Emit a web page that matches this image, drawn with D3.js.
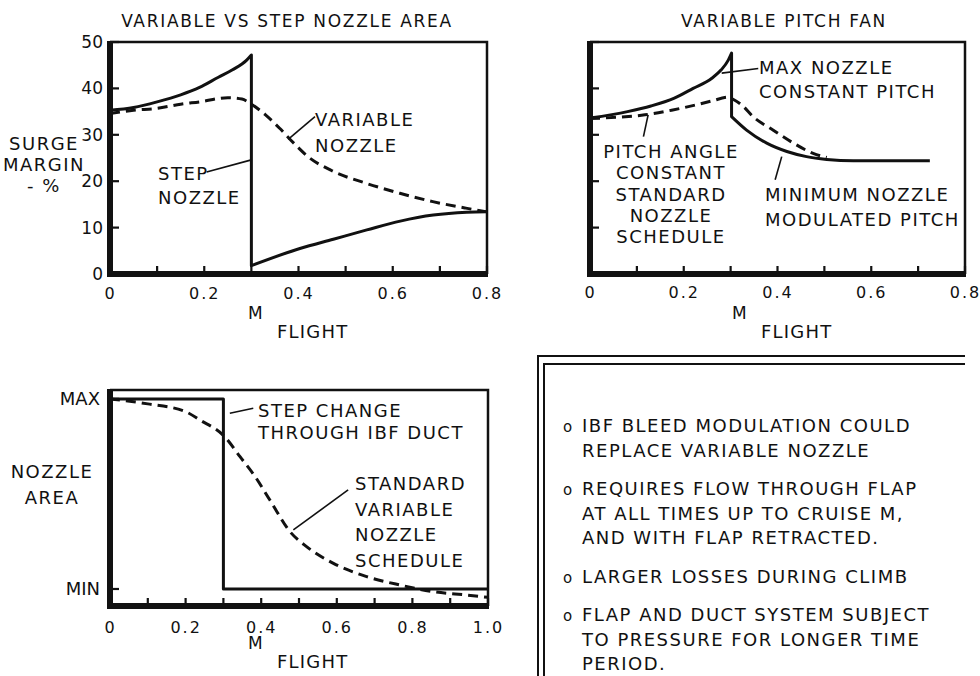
<!DOCTYPE html>
<html>
<head>
<meta charset="utf-8">
<script src="https://cdn.jsdelivr.net/npm/d3@7"></script>
<style>
  body { margin: 0; background: #fff; }
  svg text { font-family: "DejaVu Sans", sans-serif; fill: #111; }
</style>
</head>
<body>
<svg id="chart" width="980" height="676"></svg>
<script>
// ---- values ----
// panel 1 : surge margin (%) vs M flight, step vs variable nozzle
const stepLowM   = [0, 0.05, 0.1, 0.15, 0.19, 0.23, 0.26, 0.29, 0.3];
const stepLowSM  = [35.3, 35.9, 37.1, 38.6, 40.2, 42.4, 44.0, 46.1, 47.2];
const stepHighM  = [0.3, 0.403, 0.474, 0.545, 0.616, 0.686, 0.757, 0.8];
const stepHighSM = [1.8, 5.5, 7.5, 9.5, 11.4, 12.7, 13.3, 13.4];
const varNozM    = [0, 0.05, 0.1, 0.15, 0.19, 0.25, 0.28, 0.3, 0.33, 0.36, 0.39, 0.42, 0.47, 0.545, 0.615, 0.685, 0.755, 0.8];
const varNozSM   = [34.6, 35.3, 35.7, 36.6, 37.1, 38.0, 37.7, 36.6, 34.3, 31.4, 28.2, 25.3, 22.3, 19.5, 17.4, 15.6, 14.2, 13.4];

// panel 2 : variable pitch fan
const maxNozM      = [0, 0.08, 0.13, 0.18, 0.22, 0.26, 0.28, 0.295, 0.302];
const maxNozSM     = [33.6, 35.0, 36.2, 37.9, 40.0, 42.2, 44.0, 46.1, 47.6];
const minNozM      = [0.302, 0.334, 0.377, 0.42, 0.462, 0.505, 0.562, 0.633, 0.725];
const minNozSM     = [33.9, 31.0, 28.2, 26.4, 25.3, 24.7, 24.4, 24.4, 24.4];
const pitchConstM  = [0, 0.06, 0.117, 0.174, 0.224, 0.26, 0.295, 0.306, 0.324, 0.348, 0.391, 0.434, 0.476, 0.505];
const pitchConstSM = [33.5, 33.8, 34.3, 35.3, 36.4, 37.3, 38.1, 37.6, 36.4, 33.9, 31.0, 28.2, 26.0, 25.1];

// panel 3 : nozzle area (0 = MIN, 1 = MAX)
const ibfM       = [0, 0.3, 0.3, 1.0];
const ibfArea    = [1, 1, 0, 0];
const stdNozM    = [0, 0.1, 0.2, 0.238, 0.304, 0.344, 0.384, 0.423, 0.476, 0.52, 0.591, 0.679, 0.767, 0.855, 0.944, 1.0];
const stdNozArea = [1.0, 0.974, 0.933, 0.889, 0.80, 0.696, 0.591, 0.468, 0.302, 0.223, 0.135, 0.065, 0.021, -0.014, -0.032, -0.044];

// ticks
const machTicks08 = [0, 0.1, 0.2, 0.3, 0.4, 0.5, 0.6, 0.7, 0.8];
const machTicks10 = [0, 0.1, 0.2, 0.3, 0.4, 0.5, 0.6, 0.7, 0.8, 0.9, 1.0];
const smTicks = [0, 10, 20, 30, 40, 50];
const areaTicks = [0, 1];
const areaLabels = ["MIN", "MAX"];

// text
const titles = ["VARIABLE VS STEP NOZZLE AREA", "VARIABLE PITCH FAN"];
const bullets = [
  ["IBF BLEED MODULATION COULD", "REPLACE VARIABLE NOZZLE"],
  ["REQUIRES FLOW THROUGH FLAP", "AT ALL TIMES UP TO CRUISE M,", "AND WITH FLAP RETRACTED."],
  ["LARGER LOSSES DURING CLIMB"],
  ["FLAP AND DUCT SYSTEM SUBJECT", "TO PRESSURE FOR LONGER TIME", "PERIOD."]
];

const ink = "#111";
const svg = d3.select("#chart");
svg.append("rect").attr("width", 980).attr("height", 676).attr("fill", "#fff");
const frameLayer = svg.append("g");
const markLayer = svg.append("g");
const axisLayer = svg.append("g");
const textLayer = svg.append("g");

const zip = (xs, ys) => xs.map((v, i) => [v, ys[i]]);
const machFmt = d => { const k = Math.round(d * 10); return k % 2 ? "" : (k === 0 ? "0" : d.toFixed(1)); };

function addAxes(x, y, o) {
  const [xa0, xa1] = x.range(), [ya0, ya1] = y.range();
  // thin top / right border
  frameLayer.append("path")
      .attr("d", `M${xa0},${ya1}H${xa1}V${ya0}`)
      .attr("fill", "none").attr("stroke", ink).attr("stroke-width", 2.5);
  // labels from d3 axes
  const xa = axisLayer.append("g").attr("transform", `translate(0,${ya0})`)
      .call(d3.axisBottom(x).tickValues(o.xTicks).tickFormat(machFmt)
        .tickSize(0).tickSizeOuter(0).tickPadding(o.xPad));
  const ya = axisLayer.append("g").attr("transform", `translate(${xa0},0)`)
      .call(d3.axisLeft(y).tickValues(o.yTicks).tickFormat(o.yFmt)
        .tickSize(0).tickSizeOuter(0).tickPadding(o.yPad));
  [xa, ya].forEach(a => {
    a.attr("font-family", null).attr("font-size", null);
    a.select(".domain").remove();
  });
  xa.selectAll("text").attr("font-size", 16).attr("letter-spacing", 2);
  ya.selectAll("text").attr("font-size", o.yFont || 17);

  // heavy left / bottom axis lines with inward ticks
  const heavy = axisLayer.append("g").attr("stroke", ink);
  heavy.selectAll("line.xt").data(o.xTicks).join("line").attr("class", "xt")
      .attr("x1", d => x(d)).attr("x2", d => x(d))
      .attr("y1", ya0).attr("y2", ya0 - 8).attr("stroke-width", 2.2);
  heavy.selectAll("line.yt").data(o.yTicks).join("line").attr("class", "yt")
      .attr("x1", xa0).attr("x2", xa0 + 9)
      .attr("y1", d => y(d)).attr("y2", d => y(d)).attr("stroke-width", 2.2);
  heavy.append("line").attr("x1", xa0).attr("x2", xa0).attr("y1", ya1 - 1).attr("y2", ya0 + 3)
      .attr("stroke-width", 6);
  heavy.append("line").attr("x1", xa0 - 3).attr("x2", xa1 + 1).attr("y1", ya0).attr("y2", ya0)
      .attr("stroke-width", 6);
}

function curve(x, y, pts) {
  return d3.line().x(d => x(d[0])).y(d => y(d[1])).curve(d3.curveMonotoneX)(pts);
}
function drawPath(d, dashed) {
  markLayer.append("path").attr("d", d).attr("fill", "none").attr("stroke", ink)
     .attr("stroke-width", 3).attr("stroke-linejoin", "round")
     .attr("stroke-dasharray", dashed ? "10,6" : null);
}
// two smooth pieces joined by the vertical jump
function stepped(x, y, a, b) {
  return curve(x, y, a) + curve(x, y, b).replace(/^M/, "L");
}

function note(x, y, lines, lh, anchor, size) {
  const t = textLayer.append("text").attr("x", x).attr("y", y)
      .attr("text-anchor", anchor || "start")
      .attr("font-size", size || 18).attr("letter-spacing", 1.5);
  lines.forEach((s, i) => t.append("tspan").attr("x", x).attr("dy", i ? lh : 0).text(s));
}
function leader(x, y, from, to) {
  textLayer.append("line")
      .attr("x1", x(from[0])).attr("y1", y(from[1]))
      .attr("x2", x(to[0])).attr("y2", y(to[1]))
      .attr("stroke", ink).attr("stroke-width", 1.6);
}
function machLabel(xm, yb) {
  textLayer.append("text").attr("x", xm).attr("y", yb - 19).attr("font-size", 17).text("M");
  textLayer.append("text").attr("x", xm + 29).attr("y", yb).attr("font-size", 18).attr("letter-spacing", 1.2).text("FLIGHT");
}

// ---------------- panel 1 ----------------
const xP1 = d3.scaleLinear().domain([0, 0.8]).range([110, 487]);
const yP1 = d3.scaleLinear().domain([0, 50]).range([274, 42]);
drawPath(stepped(xP1, yP1, zip(stepLowM, stepLowSM), zip(stepHighM, stepHighSM)), false);
drawPath(curve(xP1, yP1, zip(varNozM, varNozSM)), true);
addAxes(xP1, yP1, {xTicks: machTicks08, xPad: 14, yTicks: smTicks, yFmt: d => d, yPad: 7});

textLayer.append("text").attr("x", 287).attr("y", 27).attr("text-anchor", "middle")
   .attr("font-size", 17).attr("letter-spacing", 1.7).text(titles[0]);
note(44, 150, ["SURGE", "MARGIN", "- %"], 21, "middle", 18);
note(315, 126, ["VARIABLE", "NOZZLE"], 25.5);
leader(xP1, yP1, [0.435, 33.9], [0.378, 29.0]);
note(158, 180, ["STEP", "NOZZLE"], 24);
leader(xP1, yP1, [0.205, 22.0], [0.3, 24.6]);
machLabel(248, 338);

// ---------------- panel 2 ----------------
const xP2 = d3.scaleLinear().domain([0, 0.8]).range([590, 965]);
const yP2 = d3.scaleLinear().domain([0, 50]).range([274, 42]);
drawPath(stepped(xP2, yP2, zip(maxNozM, maxNozSM), zip(minNozM, minNozSM)), false);
drawPath(curve(xP2, yP2, zip(pitchConstM, pitchConstSM)), true);
addAxes(xP2, yP2, {xTicks: machTicks08, xPad: 13, yTicks: smTicks, yFmt: () => "", yPad: 7});

textLayer.append("text").attr("x", 784).attr("y", 27).attr("text-anchor", "middle")
   .attr("font-size", 17).attr("letter-spacing", 1.7).text(titles[1]);
note(759, 74, ["MAX NOZZLE", "CONSTANT PITCH"], 24.3);
leader(xP2, yP2, [0.359, 44.3], [0.281, 43.3]);
note(671, 158, ["PITCH ANGLE", "CONSTANT", "STANDARD", "NOZZLE", "SCHEDULE"], 21.3, "middle");
leader(xP2, yP2, [0.114, 29.6], [0.124, 34.3]);
note(765, 201, ["MINIMUM NOZZLE", "MODULATED PITCH"], 25);
leader(xP2, yP2, [0.395, 20.3], [0.409, 25.3]);
machLabel(732, 338);

// ---------------- panel 3 ----------------
const xP3 = d3.scaleLinear().domain([0, 1]).range([110, 488]);
const yP3 = d3.scaleLinear().domain([-0.0895, 1.047]).range([606, 390]);
drawPath(d3.line().x(d => xP3(d[0])).y(d => yP3(d[1]))(zip(ibfM, ibfArea)), false);
drawPath(curve(xP3, yP3, zip(stdNozM, stdNozArea)), true);
addAxes(xP3, yP3, {xTicks: machTicks10, xPad: 16, yTicks: areaTicks, yFmt: (d, i) => areaLabels[i], yPad: 10, yFont: 18});

note(52, 478, ["NOZZLE", "AREA"], 26, "middle");
note(258, 417, ["STEP CHANGE", "THROUGH IBF DUCT"], 21.5);
leader(xP3, yP3, [0.379, 0.951], [0.317, 0.925]);
note(355, 490, ["STANDARD", "VARIABLE", "NOZZLE", "SCHEDULE"], 25.7);
leader(xP3, yP3, [0.630, 0.521], [0.485, 0.311]);
machLabel(248, 668);

// ---------------- text box ----------------
frameLayer.append("path").attr("d", "M538,676V356H965").attr("fill", "none").attr("stroke", ink).attr("stroke-width", 2);
frameLayer.append("path").attr("d", "M544,676V364H965").attr("fill", "none").attr("stroke", ink).attr("stroke-width", 2);

let yb = 432;
bullets.forEach(group => {
  textLayer.append("text").attr("x", 563).attr("y", yb).attr("font-size", 15).text("o");
  note(582, yb, group, 24.5);
  yb += 24.5 * group.length + 14;
});
</script>
</body>
</html>
